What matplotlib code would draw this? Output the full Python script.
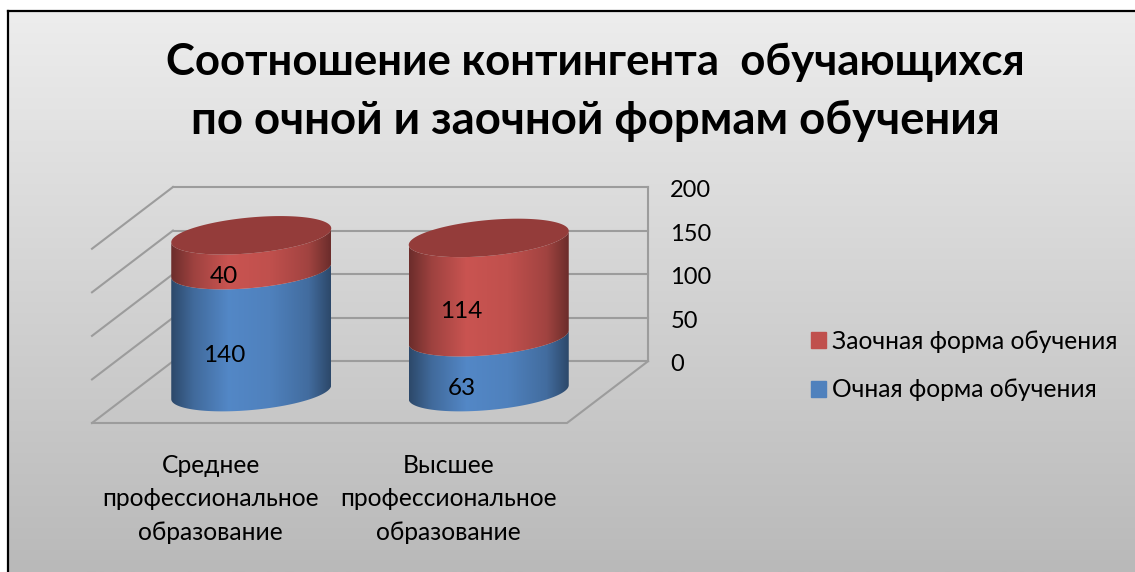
import numpy as np
import matplotlib
matplotlib.use('Agg')
import matplotlib.pyplot as plt
from matplotlib.colors import LinearSegmentedColormap, to_rgb
from matplotlib.patches import Rectangle, Polygon
from matplotlib.transforms import ScaledTranslation

W, H = 1135, 572

title_lines = ['Соотношение контингента  обучающихся', 'по очной и заочной формам обучения']
categories = ['Среднее\nпрофессиональное\nобразование', 'Высшее\nпрофессиональное\nобразование']
ochnaya = [140, 63]
zaochnaya = [40, 114]
yticks = [0, 50, 100, 150, 200]
legend_labels = ['Заочная форма обучения', 'Очная форма обучения']

BLUE = '#4f81bd'
RED = '#c0504d'
GRID = '#9c9c9c'
plt.rcParams['font.family'] = ['Lato', 'Open Sans', 'DejaVu Sans']

fig = plt.figure(figsize=(W / 100, H / 100), dpi=100, facecolor='white')

# background panel with grey gradient, goes off the right and bottom edge
bg = fig.add_axes([0, 0, 1, 1], zorder=0)
bg.set_xlim(0, W)
bg.set_ylim(H, 0)
bg.axis('off')
grey = LinearSegmentedColormap.from_list('g', ['#ededed', '#b9b9b9'])
bg.imshow(np.linspace(0, 1, 256).reshape(-1, 1), cmap=grey, aspect='auto', extent=[8, W, H, 11], zorder=1)
bg.plot([8, 8], [H, 11], color='black', lw=1.6, zorder=2)
bg.plot([8, W], [11, 11], color='black', lw=1.6, zorder=2)

# chart axes: x in category units, y in data values, depth is an oblique shift
px_cat = 237.5
px_val = 0.875
depth_x = 81 / px_cat
depth_y = 62 / px_val
x0 = -0.5
x1 = 1.5 + depth_x
ax = fig.add_axes([92 / W, 1 - 423 / H, (648 - 92) / W, (423 - 187) / H], zorder=1)
ax.patch.set_alpha(0)
for s in ax.spines.values():
    s.set_visible(False)

# walls and gridlines
for v in yticks:
    ax.plot([x0 + depth_x, x1], [v, v], color=GRID, lw=1.5, zorder=1, clip_on=False)
    ax.plot([x0, x0 + depth_x], [v - depth_y, v], color=GRID, lw=1.5, zorder=1, clip_on=False)
ax.plot([x1, x1], [0, 200], color=GRID, lw=1.5, zorder=1, clip_on=False)
ax.plot([x0, x1 - depth_x, x1], [-depth_y, -depth_y, 0], color=GRID, lw=1.5, zorder=1, clip_on=False)

ax.yaxis.tick_right()
ax.set_yticks(yticks)
ax.set_yticklabels([str(v) for v in yticks], fontsize=17, color='black')
ax.tick_params(axis='y', length=0, pad=16)
for lab in ax.get_yticklabels():
    lab.set_transform(lab.get_transform() + ScaledTranslation(0, -1.5 / 100, fig.dpi_scale_trans))
ax.set_xticks(range(len(categories)))
ax.set_xticklabels(categories, fontsize=17.7, linespacing=1.57, color='black')
ax.tick_params(axis='x', length=0, pad=22)

# cylinder geometry
rad_x = 80 / px_cat
tilt = 7 / px_val
rad_y = 18 / px_val
t = np.linspace(0, 2 * np.pi, 241)
label_dx = 0.115
label_dy = 27.4


def shade(color):
    rgb = np.array(to_rgb(color))
    stops = [(0, rgb * 0.56), (0.14, rgb * 0.82), (0.36, rgb * 1.05), (0.62, rgb * 1.0),
             (0.86, rgb * 0.84), (1, rgb * 0.56)]
    return LinearSegmentedColormap.from_list('s', [(p, np.clip(c, 0, 1)) for p, c in stops])


def cyl_side(cx, cy, low, high, color, z):
    # side of the cylinder between two values, front half of the ellipse outline
    tt = np.linspace(np.pi, 2 * np.pi, 121)
    xs = cx + rad_x * np.cos(tt)
    yl = cy + low + tilt * np.cos(tt) + rad_y * np.sin(tt)
    yh = cy + high + tilt * np.cos(tt) + rad_y * np.sin(tt)
    poly = Polygon(np.column_stack([np.r_[xs, xs[::-1]], np.r_[yl, yh[::-1]]]),
                   closed=True, facecolor='none', edgecolor='none', zorder=z)
    ax.add_patch(poly)
    img = ax.imshow(np.linspace(0, 1, 256).reshape(1, -1), cmap=shade(color), aspect='auto',
                    extent=[cx - rad_x, cx + rad_x, cy + low - rad_y - tilt, cy + high + rad_y + tilt],
                    zorder=z)
    img.set_clip_path(poly)


for i in range(len(categories)):
    cx = i + depth_x / 2
    cy = -depth_y / 2
    top = ochnaya[i] + zaochnaya[i]
    cyl_side(cx, cy, 0, ochnaya[i], BLUE, 3)
    cyl_side(cx, cy, ochnaya[i], top, RED, 4)
    ax.fill(cx + rad_x * np.cos(t), cy + top + tilt * np.cos(t) + rad_y * np.sin(t),
            color='#943c3a', lw=0, zorder=5)
    # value labels sit on the front of the cylinder
    ax.text(cx - label_dx, cy - label_dy + ochnaya[i] / 2, str(ochnaya[i]),
            ha='center', va='center', fontsize=17.5, zorder=6)
    ax.text(cx - label_dx, cy - label_dy + ochnaya[i] + zaochnaya[i] / 2, str(zaochnaya[i]),
            ha='center', va='center', fontsize=17.5, zorder=6)

ax.set_xlim(x0, x1)
ax.set_ylim(-depth_y, 200)

# legend
handles = [Rectangle((0, 0), 1, 1, color=RED), Rectangle((0, 0), 1, 1, color=BLUE)]
fig.legend(handles, legend_labels, loc='upper left', bbox_to_anchor=(811 / W, 1 - 330 / H), frameon=False,
           fontsize=17.75, handlelength=0.61, handleheight=0.61, handletextpad=0.26, labelspacing=1.03,
           borderpad=0, borderaxespad=0)

# two separate lines, the font runs a little differently on each
fig.text(595 / W, 1 - 75 / H, title_lines[0], ha='center', va='baseline', fontsize=31.5, fontweight='bold')
fig.text(595 / W, 1 - 134 / H, title_lines[1], ha='center', va='baseline', fontsize=32.8, fontweight='bold')

fig.savefig('out.png', dpi=100)
